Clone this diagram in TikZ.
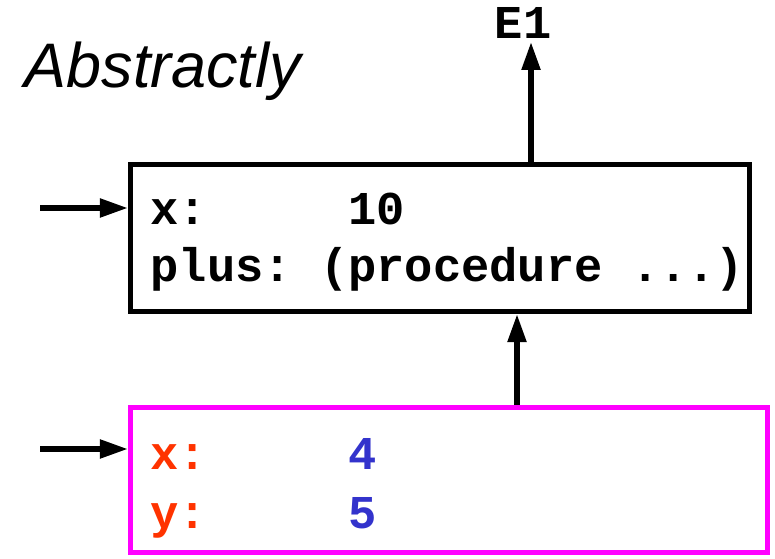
\documentclass[tikz,border=0pt]{standalone}
\usepackage{fontspec}
\setmainfont{Liberation Sans}
\setmonofont{Liberation Mono}
\usetikzlibrary{arrows.meta}
\definecolor{framepink}{RGB}{255,0,255}
\definecolor{namered}{RGB}{255,51,0}
\definecolor{valblue}{RGB}{51,51,204}
\tikzset{
  envbox/.style={draw,line width=1.5pt,inner sep=0pt},
  binding/.style={anchor=base west,inner sep=0pt,font=\fontsize{13.4}{16}\selectfont\ttfamily\bfseries}
}

\begin{document}
\begin{tikzpicture}[>={Triangle[length=2.8mm,width=1.8mm]},line width=1.5pt]
    \useasboundingbox (0,0) rectangle (7.75,5.58);
    % Frames
    \node[envbox,minimum width=6.19cm,minimum height=1.47cm] (env1) at (4.40,3.20) {};
    \node[envbox,draw=framepink,minimum width=6.37cm,minimum height=1.45cm] (env2) at (4.49,0.78) {};
    % Bindings
    \node[binding] (x1) at (1.48,3.33) {x:\ \ \ \ \ 10};
    \node[binding] (plus1) at (1.48,2.76) {plus: (procedure ...)};
    \node[binding] (x2) at (1.48,0.88) {\textcolor{namered}{x:}\ \ \ \ \ \textcolor{valblue}{4}};
    \node[binding] (y2) at (1.48,0.30) {\textcolor{namered}{y:}\ \ \ \ \ \textcolor{valblue}{5}};
    % Labels
    \node[anchor=base west,inner sep=0pt,font=\fontsize{17.9}{20}\selectfont\itshape] (title) at (0.22,4.70) {Abstractly};
    \node[binding,anchor=base] (e1) at (5.23,5.19) {E1};
    % Pointers
    \coordinate (e1tip) at (5.31,5.16);
    \coordinate (in1) at (0.40,3.50);
    \coordinate (in2) at (0.40,1.09);
    \draw[->] (env1.north -| e1tip) -- (e1tip);
    \draw[->] (env2.north -| 5.17,0) -- (env1.south -| 5.17,0);
    \draw[->] (in1) -- (env1.west |- in1);
    \draw[->] (in2) -- (env2.west |- in2);
  \end{tikzpicture}
\end{document}
